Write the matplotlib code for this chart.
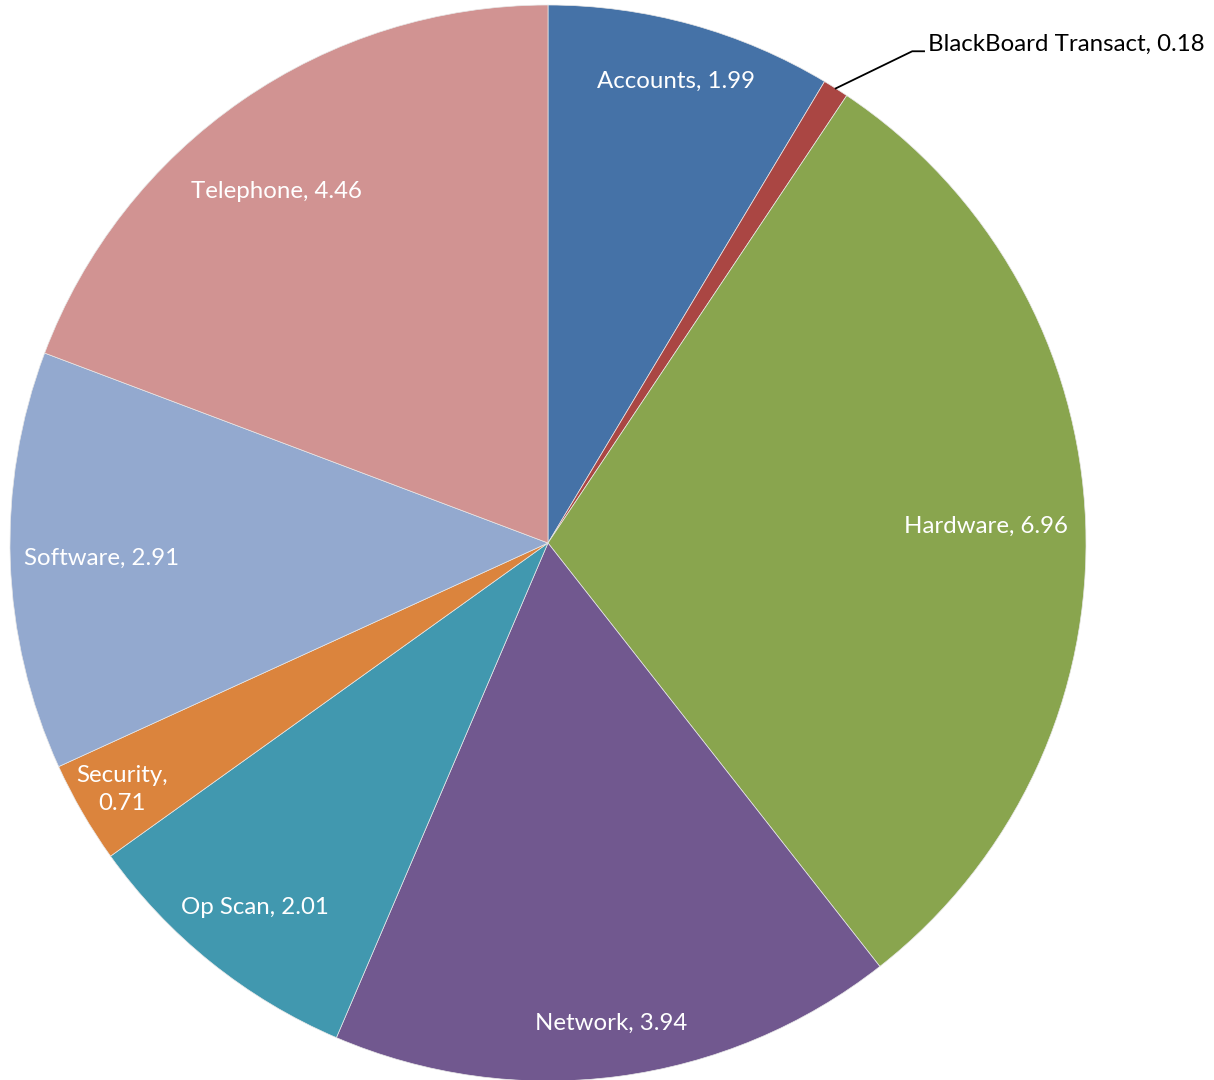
import numpy as np
import matplotlib.pyplot as plt

# Ticket categories, clockwise from 12 o'clock
categories = ['Accounts', 'BlackBoard Transact', 'Hardware', 'Network',
              'Op Scan', 'Security', 'Software', 'Telephone']
values = [1.99, 0.18, 6.96, 3.94, 2.01, 0.71, 2.91, 4.46]

colors = ['#4572A7', '#AA4643', '#89A54E', '#71588F',
          '#4198AF', '#DB843D', '#93A9CF', '#D19392']

# radial placement of the inside labels (fraction of radius) and angle nudge (deg)
label_r = [0.89, None, 0.815, 0.90, 0.87, 0.915, 0.83, 0.825]
label_da = [0, 0, 0, 0, 0, 0, 0, 3]

plt.rcParams['font.family'] = ['Lato', 'DejaVu Sans']
FS = 17.3

W, H = 1214, 1080
cx, cy, R = 548, 543, 538

fig = plt.figure(figsize=(W / 100, H / 100), dpi=100)
ax = fig.add_axes([0, 0, 1, 1])

wedges, _ = ax.pie(values, colors=colors, startangle=90, counterclock=False,
                   radius=1.0, wedgeprops=dict(linewidth=0.5, edgecolor='#e8e8e8'))

# pie() resets the limits, so fix the frame afterwards
ax.set_xlim(-cx / R, (W - cx) / R)
ax.set_ylim(-(H - cy) / R, cy / R)
ax.set_aspect('equal')
ax.axis('off')

for w, name, v, lr, da in zip(wedges, categories, values, label_r, label_da):
    mid = np.deg2rad((w.theta1 + w.theta2) / 2 + da)
    if lr is None:
        # outside label with a leader line
        ex, ey = np.cos(mid), np.sin(mid)
        elbow = (0.677, 0.914)
        ax.plot([ex, elbow[0], elbow[0] + 0.022], [ey, elbow[1], elbow[1]],
                color='black', lw=1.3)
        ax.text(elbow[0] + 0.03, elbow[1] + 0.012, f'{name}, {v:.2f}',
                ha='left', va='center', fontsize=FS, color='black')
        continue
    txt = f'{name},\n{v:.2f}' if name == 'Security' else f'{name}, {v:.2f}'
    ax.text(lr * np.cos(mid), lr * np.sin(mid), txt, ha='center', va='center',
            fontsize=FS, color='white', linespacing=1.4)

fig.savefig('out.png', dpi=100)
